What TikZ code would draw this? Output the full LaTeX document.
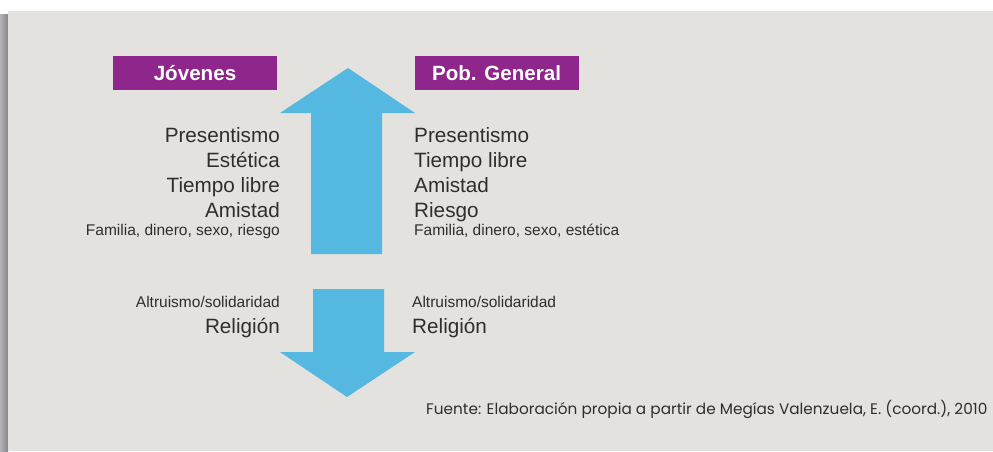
\documentclass[tikz,border=0pt]{standalone}
\usepackage{fontspec}
\setmainfont{Liberation Sans}
\newfontfamily\footfont{Poppins}
\definecolor{panel}{HTML}{E3E2DF}
\definecolor{purp}{HTML}{8E268B}
\definecolor{sky}{HTML}{55B8E0}
\definecolor{txt}{HTML}{2E2E2E}
\definecolor{shadA}{HTML}{B4B4B8}
\definecolor{shadB}{HTML}{85858B}
\tikzset{
  head/.style={fill=purp, text=white, font=\fontsize{20.6}{24}\selectfont\bfseries, minimum width=164pt, minimum height=34pt, inner sep=0pt},
  big/.style={text=txt, font=\fontsize{20.7}{24}\selectfont, inner sep=0pt},
  small/.style={text=txt, font=\fontsize{15.5}{18}\selectfont, inner sep=0pt},
  foot/.style={text=txt, font=\footfont\fontsize{15.3}{18}\selectfont, inner sep=0pt},
  arrowshape/.style={fill=sky, draw=none}
}
\begin{document}
\begin{tikzpicture}[x=1pt,y=-1pt]
\useasboundingbox (0,0) rectangle (993,451);
\fill[white] (0,0) rectangle (993,451);
\shade[left color=shadA, right color=shadB] (0,14) rectangle (8,451);
\fill[panel] (8,11) rectangle (993,451);
% arrows
\fill[arrowshape] (311,254) -- (311,113) -- (280,113) -- (348,68) -- (415,113) -- (382,113) -- (382,254) -- cycle;
\fill[arrowshape] (313,289) -- (313,352) -- (280,352) -- (347,397) -- (415,352) -- (384,352) -- (384,289) -- cycle;
% headers
\node[head] (jov) at (195,73) {Jóvenes};
\node[head] (pob) at (496.5,73) {Pob. General};
% left column
\node[big, anchor=base east] (l1) at (280,142) {Presentismo};
\node[big, anchor=base east] (l2) at (280,167) {Estética};
\node[big, anchor=base east] (l3) at (280,192) {Tiempo libre};
\node[big, anchor=base east] (l4) at (280,217) {Amistad};
\node[small, anchor=base east] (l5) at (280,235) {Familia, dinero, sexo, riesgo};
\node[small, anchor=base east] (l6) at (280,307) {Altruismo/solidaridad};
\node[big, anchor=base east] (l7) at (280,333) {Religión};
% right column
\node[big, anchor=base west] (r1) at (414,142) {Presentismo};
\node[big, anchor=base west] (r2) at (414,167) {Tiempo libre};
\node[big, anchor=base west] (r3) at (414,192) {Amistad};
\node[big, anchor=base west] (r4) at (414,217) {Riesgo};
\node[small, anchor=base west] (r5) at (414,235) {Familia, dinero, sexo, estética};
\node[small, anchor=base west] (r6) at (412,307) {Altruismo/solidaridad};
\node[big, anchor=base west] (r7) at (412,333) {Religión};
% footer
\node[foot, anchor=base west] (src) at (426,414) {Fuente: Elaboración propia a partir de Megías Valenzuela, E. (coord.), 2010};
\end{tikzpicture}
\end{document}
